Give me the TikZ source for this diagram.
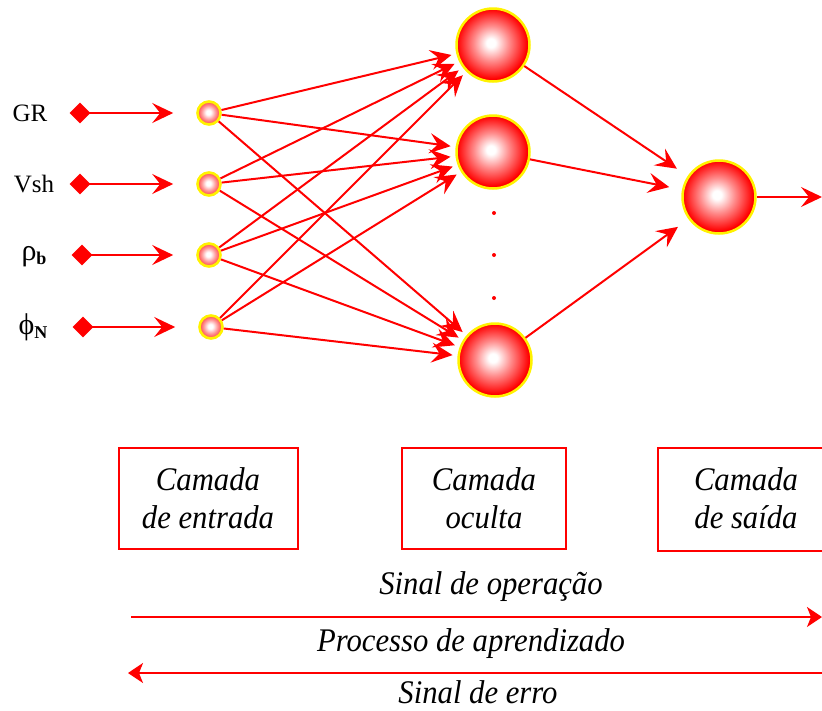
\documentclass[tikz,border=0pt]{standalone}
\usepackage{fontspec}
\setmainfont{Liberation Serif}
\newfontfamily\tallserif[FakeStretch=0.93]{Liberation Serif}
\usetikzlibrary{arrows.meta,shapes.geometric}
\pgfdeclareradialshading{spherebig}{\pgfpoint{-1.5bp}{1.5bp}}{color(0bp)=(white); color(3bp)=(white); color(12bp)=(red!45!white); color(24bp)=(red); color(50bp)=(red)}
\pgfdeclareradialshading{spheresmall}{\pgfpoint{-1.5bp}{1.5bp}}{color(0bp)=(white); color(5bp)=(white); color(15bp)=(red!40!white); color(25bp)=(red!75!white); color(50bp)=(red!75!white)}
\tikzset{
  bigball/.style={circle, shading=spherebig, draw=yellow, line width=2.5pt, minimum size=73pt, inner sep=0pt},
  smallball/.style={circle, shading=spheresmall, draw=yellow, line width=2.6pt, minimum size=23pt, inner sep=0pt},
  tipbox/.style={diamond, fill=red, minimum size=21pt, inner sep=0pt},
  conn/.style={draw=red, line width=2pt, -{Stealth[length=21pt,width=20pt,inset=8pt]}},
  flowarrow/.style={draw=red, line width=2pt, -{Stealth[length=15pt,width=20pt,inset=4pt]}},
  layerbox/.style={draw=red, line width=1.5pt},
  itext/.style={font=\tallserif\fontsize{33}{38}\selectfont\itshape, align=center, inner sep=0pt},
  inlabel/.style={font=\fontsize{25}{28}\selectfont, inner sep=0pt},
  dotmark/.style={circle, fill=red, minimum size=4pt, inner sep=0pt}
}
\newcommand{\subb}[1]{\raisebox{-4pt}{\fontsize{18}{20}\selectfont\bfseries #1}}
\newcommand{\grk}[1]{{\fontsize{30}{32}\selectfont #1}}
\begin{document}
\begin{tikzpicture}[x=1pt,y=-1pt]
\useasboundingbox (0,0) rectangle (822,710);
% input labels
\node[inlabel] (l1) at (30,113) {GR};
\node[inlabel] (l2) at (34,184) {Vsh};
\node[inlabel] (l3) at (34,257) {\grk{ρ}\subb{b}};
\node[inlabel] (l4) at (33,327) {\grk{ϕ}\subb{N}};
% diamonds
\node[tipbox] (d1) at (80,113) {};
\node[tipbox] (d2) at (80,184) {};
\node[tipbox] (d3) at (82,255) {};
\node[tipbox] (d4) at (83,327) {};
% input nodes
\node[smallball] (i1) at (209,113) {};
\node[smallball] (i2) at (209,184) {};
\node[smallball] (i3) at (209,255) {};
\node[smallball] (i4) at (211,327) {};
% hidden nodes
\node[bigball] (h1) at (493,45) {};
\node[bigball] (h2) at (493,152) {};
\node[bigball] (h3) at (495,360) {};
\node[dotmark] (p1) at (494,213) {};
\node[dotmark] (p2) at (494,255) {};
\node[dotmark] (p3) at (494,298) {};
% output node
\node[bigball] (o) at (719,197) {};
\coordinate (oend) at (822,197);
% input arrows
\foreach \k in {1,2,3,4} {
  \draw[conn, shorten >=23pt] (d\k.center) -- (i\k);
}
% input to hidden
\foreach \k in {1,2,3,4} {
  \foreach \j in {1,2,3} {
    \draw[conn, shorten >=5pt] (i\k) -- (h\j);
  }
}
% hidden to output
\foreach \j in {1,2,3} {
  \draw[conn, shorten >=13pt] (h\j) -- (o);
}
\draw[conn] (o) -- (oend);
% layer boxes
\draw[layerbox] (119,448) rectangle (298,549);
\draw[layerbox] (402,448) rectangle (566,549);
\draw[layerbox] (658,448) rectangle (824,551);
\node[itext] (t1) at (208,498) {Camada\\de entrada};
\node[itext] (t2) at (484,498) {Camada\\oculta};
\node[itext] (t3) at (746,498) {Camada\\de saída};
% bottom arrows
\node[itext] (s1) at (491,587) {Sinal de operação};
\node[itext] (s2) at (471,644) {Processo de aprendizado};
\node[itext] (s3) at (478,692) {Sinal de erro};
\coordinate (a1s) at (131,617);
\coordinate (a1e) at (822,617);
\coordinate (a2s) at (822,673);
\coordinate (a2e) at (128,673);
\draw[flowarrow] (a1s) -- (a1e);
\draw[flowarrow] (a2s) -- (a2e);
\end{tikzpicture}
\end{document}
